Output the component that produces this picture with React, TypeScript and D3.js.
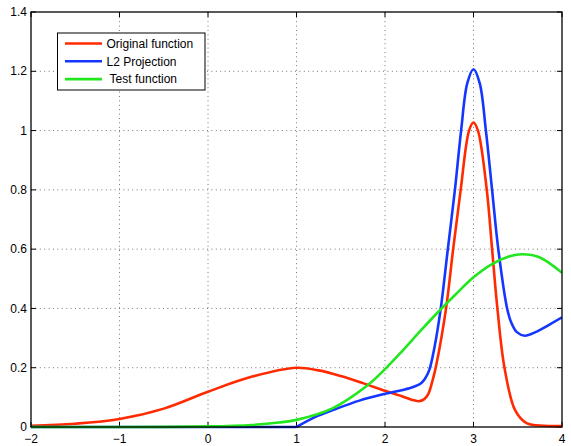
import React from "react";
import * as d3 from "d3";

// values
const xTicks = [-2, -1, 0, 1, 2, 3, 4];
const yTicks = [0, 0.2, 0.4, 0.6, 0.8, 1, 1.2, 1.4];
const yTickLabels = ["0", "0.2", "0.4", "0.6", "0.8", "1", "1.2", "1.4"];

const originalFn: [number, number][] = [
  [-2, 0.004], [-1.5, 0.011], [-1, 0.027], [-0.5, 0.062], [0, 0.119],
  [0.5, 0.17], [1, 0.2], [1.25, 0.191], [1.5, 0.172], [1.75, 0.148],
  [2, 0.122], [2.2, 0.103], [2.3, 0.092], [2.38, 0.087], [2.44, 0.093],
  [2.49, 0.112], [2.54, 0.16], [2.58, 0.21], [2.69, 0.4], [2.77, 0.6],
  [2.855, 0.8], [2.95, 1.0], [3, 1.027], [3.05, 1.0], [3.15, 0.8],
  [3.21, 0.6], [3.27, 0.4], [3.35, 0.2], [3.47, 0.057], [3.6, 0.013],
  [3.8, 0.004], [4, 0.003],
];

const l2Projection: [number, number][] = [
  [-2, 0], [0, 0], [1, 0], [1.22, 0.035], [1.41, 0.057], [1.71, 0.089],
  [2, 0.112], [2.2, 0.125], [2.32, 0.135], [2.4, 0.146], [2.45, 0.162],
  [2.5, 0.192], [2.56, 0.27], [2.63, 0.4], [2.71, 0.6], [2.79, 0.8],
  [2.86, 1.0], [2.93, 1.16], [3, 1.207], [3.07, 1.16], [3.14, 1.0],
  [3.21, 0.8], [3.28, 0.6], [3.38, 0.4], [3.43, 0.35], [3.49, 0.32],
  [3.58, 0.308], [3.7, 0.32], [3.85, 0.344], [4, 0.37],
];

const testFn: [number, number][] = [
  [-2, 0], [-1, 0], [0, 0.002], [0.5, 0.007], [0.8, 0.015], [1, 0.024],
  [1.4, 0.062], [1.8, 0.14], [2, 0.195], [2.2, 0.258], [2.4, 0.324],
  [2.6, 0.388], [2.8, 0.448], [3, 0.505], [3.2, 0.548], [3.4, 0.575],
  [3.55, 0.583], [3.75, 0.572], [4, 0.52],
];

const series = [
  { name: "Original function", data: originalFn, color: "#ff2a00" },
  { name: "L2 Projection", data: l2Projection, color: "#1436ff" },
  { name: " Test function", data: testFn, color: "#22e61e" },
];

const width = 571;
const height = 446;
const margin = { top: 12, right: 9, bottom: 19, left: 31 };

export default function App() {
  const x = d3
    .scaleLinear()
    .domain([-2, 4])
    .range([margin.left, width - margin.right]);
  const y = d3
    .scaleLinear()
    .domain([0, 1.4])
    .range([height - margin.bottom, margin.top]);

  const line = d3
    .line<[number, number]>()
    .x((d) => x(d[0]))
    .y((d) => y(d[1]))
    .curve(d3.curveCatmullRom.alpha(0.5));

  const x0 = x(-2);
  const x1 = x(4);
  const y0 = y(0);
  const y1 = y(1.4);
  const font = "'Liberation Sans', Arial, Helvetica, sans-serif";

  // split the blue series at its kink (x = 1)
  const pieces = (s: (typeof series)[number]) =>
    s.name === "L2 Projection"
      ? [s.data.filter((d) => d[0] <= 1), s.data.filter((d) => d[0] >= 1)]
      : [s.data];

  return (
    <svg
      width={width}
      height={height}
      style={{ position: "absolute", left: 0, top: 0, background: "#fff" }}
    >
      <defs>
        <clipPath id="plot">
          <rect x={x0} y={y1 - 2} width={x1 - x0} height={y0 - y1 + 4} />
        </clipPath>
      </defs>

      {/* grid */}
      <g stroke="#777" strokeWidth={1} strokeDasharray="1,3.4">
        {xTicks.slice(1, -1).map((t) => (
          <line key={"gx" + t} x1={x(t)} x2={x(t)} y1={y0} y2={y1} />
        ))}
        {yTicks.slice(1, -1).map((t) => (
          <line key={"gy" + t} x1={x0} x2={x1} y1={y(t)} y2={y(t)} />
        ))}
      </g>

      {/* inward ticks on all sides */}
      <g stroke="#000" strokeWidth={1}>
        {xTicks.map((t) => (
          <g key={"tx" + t}>
            <line x1={x(t)} x2={x(t)} y1={y0} y2={y0 - 5} />
            <line x1={x(t)} x2={x(t)} y1={y1} y2={y1 + 5} />
          </g>
        ))}
        {yTicks.map((t) => (
          <g key={"ty" + t}>
            <line x1={x0} x2={x0 + 5} y1={y(t)} y2={y(t)} />
            <line x1={x1} x2={x1 - 5} y1={y(t)} y2={y(t)} />
          </g>
        ))}
      </g>

      {/* curves */}
      <g clipPath="url(#plot)" fill="none" strokeWidth={2.6} strokeLinejoin="round">
        {series.map((s) =>
          pieces(s).map((p, i) => (
            <path key={s.name + i} d={line(p) ?? ""} stroke={s.color} />
          ))
        )}
      </g>

      {/* box */}
      <rect
        x={x0}
        y={y1}
        width={x1 - x0}
        height={y0 - y1}
        fill="none"
        stroke="#000"
        strokeWidth={1.3}
      />

      {/* tick labels */}
      <g fontFamily={font} fontSize={12} fill="#000">
        {xTicks.map((t) => (
          <text key={"lx" + t} x={x(t)} y={y0 + 16} textAnchor="middle">
            {t < 0 ? "\u2212" + Math.abs(t) : String(t)}
          </text>
        ))}
        {yTicks.map((t, i) => (
          <text
            key={"ly" + t}
            x={x0 - 4}
            y={y(t)}
            dy="0.35em"
            textAnchor="end"
          >
            {yTickLabels[i]}
          </text>
        ))}
      </g>

      {/* legend */}
      <g fontFamily={font} fontSize={12}>
        <rect x={57.5} y={33} width={147.5} height={57} fill="#fff" stroke="#000" strokeWidth={1} />
        {series.map((s, i) => (
          <g key={"lg" + s.name} transform={`translate(0,${43.5 + i * 17.8})`}>
            <line x1={65} x2={102} y1={0} y2={0} stroke={s.color} strokeWidth={2.6} />
            <text x={106.5} y={0} dy="0.35em" style={{ whiteSpace: "pre" }}>
              {s.name}
            </text>
          </g>
        ))}
      </g>
    </svg>
  );
}
